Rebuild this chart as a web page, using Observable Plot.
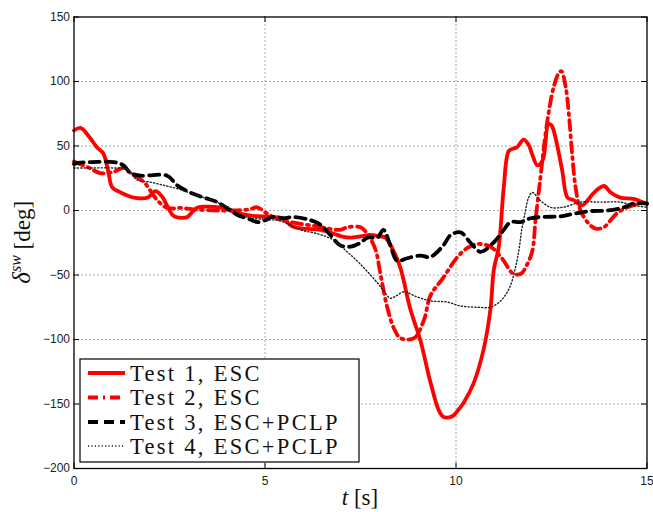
<!DOCTYPE html>
<html>
<head>
<meta charset="utf-8">
<script src="https://cdn.jsdelivr.net/npm/d3@7"></script>
<script src="https://cdn.jsdelivr.net/npm/@observablehq/plot@0.6"></script>
<style>
  html, body { margin: 0; padding: 0; background: #fff; }
  #chart svg { display: block; }
</style>
</head>
<body>
<div id="chart"></div>
<script>
// ---- data ----
const seriesNames = ["Test 1, ESC", "Test 2, ESC", "Test 3, ESC+PCLP", "Test 4, ESC+PCLP"];
const xTicks = [0, 5, 10, 15];
const yTicks = [-200, -150, -100, -50, 0, 50, 100, 150];

const t1 = [0,0.17,0.4,0.6,0.77,0.9,1.0,1.22,1.5,1.7,1.93,2.13,2.3,2.45,2.6,2.75,2.97,3.1,3.25,3.5,3.8,4.0,4.3,4.63,5.14,5.45,5.7,6.0,6.45,6.8,7.0,7.24,7.5,7.76,8.0,8.15,8.36,8.55,8.8,9.07,9.33,9.55,9.67,9.8,9.93,10.05,10.2,10.46,10.72,10.9,10.99,11.12,11.25,11.38,11.5,11.6,11.77,11.9,12.0,12.13,12.27,12.42,12.5,12.6,12.78,12.92,13.08,13.3,13.45,13.6,13.87,14.05,14.3,14.65,15];
const d1 = [62,64,57,49,44,30,18,14,10.5,9.5,10,15,11,3,-4,-5.5,-5,-1,2.5,3,2.5,1,-2,-4,-5,-6,-12,-14,-15,-18,-20,-21,-20,-19,-20,-21,-31,-45,-76,-101,-133,-155,-160,-160.5,-159,-155,-149,-134,-108,-77,-46,-28,18,46,48,49,55,51,43,35,39,67,66,57,31,10,8,4,8,13.5,19,14,10,9,5];

const t2 = [0,0.15,0.4,0.69,1.04,1.3,1.48,1.83,2.18,2.44,2.79,3.31,4.17,4.6,4.79,5.06,5.3,5.67,6.3,6.97,7.15,7.5,7.7,7.9,8.02,8.2,8.37,8.55,8.9,9.16,9.33,9.67,10.04,10.3,10.56,10.9,11.2,11.5,11.7,11.86,12.0,12.08,12.2,12.38,12.56,12.7,12.76,12.87,12.95,13.04,13.13,13.26,13.47,13.65,13.87,14.05,14.22,14.49,14.83,15];
const d2 = [38,36,33,29,30,33,29,22,8,2,2,0.5,0,1,2.5,-2.5,-6,-9,-12,-15,-13,-13,-19,-31,-49,-75,-91,-99,-99,-85,-66,-52,-36,-29,-26,-28,-37,-49,-49,-42,-31,-8,23,67,96,107,108,96,76,44,18,0,-10,-14,-13,-7.5,-2,2.5,5.5,6.5];

const t3 = [0,0.1,0.48,1.04,1.3,1.48,1.74,2.44,2.7,3.04,3.4,3.75,4.0,4.28,4.62,4.8,5.01,5.2,5.49,5.75,6.19,6.45,6.71,6.97,7.24,7.5,7.68,7.94,8.1,8.28,8.46,8.72,9.07,9.33,9.67,9.86,10.12,10.38,10.64,10.98,11.25,11.43,11.69,11.95,12.3,12.74,13.08,13.52,13.97,14.4,14.66,15];
const d3 = [36,37,37.5,37.5,35,29,27,27,19.5,14,10,6.5,2,-3.5,-7,-9,-7.5,-5,-6,-5,-7.5,-11,-19,-27,-28,-25,-21,-21,-15,-27,-39,-37,-35,-36,-27,-19,-17,-25,-32,-25,-15,-9,-9,-6,-5,-4.5,-2.5,-0.5,0,2.5,5.5,5.5];

const t4 = [0,0.5,1.0,1.4,1.66,2.0,2.35,2.7,3.0,3.5,4.0,4.5,5.0,5.4,5.93,6.37,6.8,7.15,7.41,7.67,7.94,8.1,8.28,8.45,8.63,8.98,9.33,9.77,10.12,10.56,10.9,11.17,11.4,11.55,11.65,11.72,11.8,11.9,12.0,12.2,12.47,12.8,13.26,13.78,14.3,14.65,15];
const d4 = [33,33,33,32,23.5,22,19.5,17,14,9,3,-5,-7,-8,-15,-18,-23,-32,-39,-47,-56,-62,-68,-66,-63,-67,-70,-71,-74,-75,-75,-70,-60,-45,-30,-15,-3,10,14,8,2.5,2.5,6.5,6.5,6.5,4,2.5];

// ---- styles ----
const styles = [
  {stroke: "#ff0000", strokeWidth: 3.8, dash: null},
  {stroke: "#ff0000", strokeWidth: 3.8, dash: "10,5,2,5"},
  {stroke: "#000000", strokeWidth: 3.8, dash: "10,6"},
  {stroke: "#222222", strokeWidth: 1.4, dash: "1.2,2.2"}
];
const ts = [t1, t2, t3, t4];
const ds = [d1, d2, d3, d4];
const series = ts.map((t, k) => t.map((x, i) => ({t: x, v: ds[k][i]})));

const W = 653, H = 512;
const mL = 73.5, mR = 6.5, mT = 16.5, mB = 44;
const pw = W - mL - mR, ph = H - mT - mB;
const tickLen = 5.5;

const marks = [
  Plot.ruleX(xTicks.slice(1, -1), {stroke: "#555", strokeWidth: 1, strokeDasharray: "1,3"}),
  Plot.ruleY(yTicks.slice(1, -1), {stroke: "#555", strokeWidth: 1, strokeDasharray: "1,3"}),
  // inward ticks on all four sides
  Plot.ruleX(xTicks, {stroke: "black", strokeWidth: 1, insetTop: ph - tickLen}),
  Plot.ruleX(xTicks, {stroke: "black", strokeWidth: 1, insetBottom: ph - tickLen}),
  Plot.ruleY(yTicks, {stroke: "black", strokeWidth: 1, insetRight: pw - tickLen}),
  Plot.ruleY(yTicks, {stroke: "black", strokeWidth: 1, insetLeft: pw - tickLen}),
  ...series.map((s, k) => Plot.line(s, {
    x: "t", y: "v", stroke: styles[k].stroke, strokeWidth: styles[k].strokeWidth,
    strokeDasharray: styles[k].dash, curve: "catmull-rom", strokeLinejoin: "round"
  })),
  Plot.frame({stroke: "black", strokeWidth: 1.3}),
  Plot.axisX(xTicks, {tickSize: 0, tickPadding: 8, fontSize: 12, label: null}),
  Plot.axisY(yTicks, {tickSize: 0, tickPadding: 4, fontSize: 12, label: null})
];

const chart = Plot.plot({
  width: W, height: H,
  marginLeft: mL, marginRight: mR, marginTop: mT, marginBottom: mB,
  x: {domain: [0, 15]},
  y: {domain: [-200, 150]},
  style: {fontFamily: "'Liberation Sans', Arial, sans-serif", color: "#222", background: "white"},
  marks
});
document.getElementById("chart").appendChild(chart);

// ---- axis titles and legend (LaTeX-like serif text) ----
const NS = "http://www.w3.org/2000/svg";
function el(parent, tag, attrs, text) {
  const e = document.createElementNS(NS, tag);
  for (const k in attrs) if (attrs[k] != null) e.setAttribute(k, attrs[k]);
  if (text != null) e.textContent = text;
  parent.appendChild(e);
  return e;
}
const serif = "'Liberation Serif', 'Times New Roman', serif";

const yl = el(chart, "text", {
  transform: `translate(30,${mT + ph / 2}) rotate(-90)`,
  "text-anchor": "middle", "font-family": serif, "font-size": 23, fill: "#111"
});
el(yl, "tspan", {"font-style": "italic", "font-size": 25}, "δ");
el(yl, "tspan", {"font-style": "italic", "font-size": 16, dy: -9}, "sw");
el(yl, "tspan", {dy: 9}, " [deg]");

const xl = el(chart, "text", {
  x: mL + pw / 2, y: 505, "text-anchor": "middle",
  "font-family": serif, "font-size": 23, fill: "#111"
});
el(xl, "tspan", {"font-style": "italic"}, "t");
el(xl, "tspan", {}, " [s]");

const lg = el(chart, "g", {});
el(lg, "rect", {x: 80, y: 359, width: 279, height: 103, fill: "white", stroke: "black", "stroke-width": 1.2});
const rowY = [373, 397.5, 422, 446];
seriesNames.forEach((name, k) => {
  el(lg, "line", {
    x1: 88, x2: 125, y1: rowY[k], y2: rowY[k],
    stroke: styles[k].stroke, "stroke-width": styles[k].strokeWidth,
    "stroke-dasharray": styles[k].dash
  });
  el(lg, "text", {
    x: 130, y: rowY[k] + 7.5, "text-anchor": "start", "font-family": serif, "font-size": 22.5,
    "letter-spacing": 2.3, fill: "#111"
  }, name);
});
</script>
</body>
</html>
